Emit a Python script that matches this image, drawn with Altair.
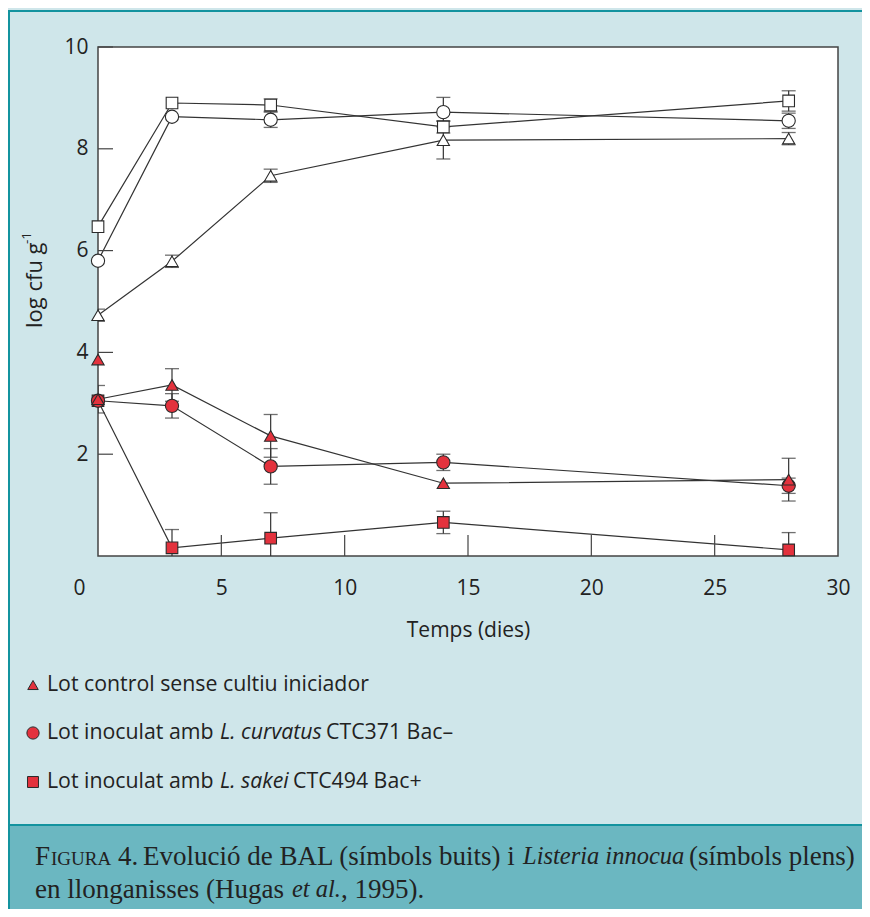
import altair as alt
import pandas as pd

# ---------------- data ----------------
days = [0, 3, 7, 14, 28]

# BAL (open symbols)
bal_sakei = [6.47, 8.90, 8.86, 8.43, 8.94]
bal_sakei_err = [0, 0, 0.12, 0.12, 0.20]
bal_curvatus = [5.80, 8.63, 8.57, 8.72, 8.55]
bal_curvatus_err = [0, 0, 0.15, 0.29, 0.15]
bal_control = [4.73, 5.79, 7.47, 8.17, 8.20]
bal_control_err = [0.12, 0.12, 0.13, 0.37, 0.12]

# Listeria innocua (filled symbols)
lis_sakei = [3.05, 0.16, 0.35, 0.66, 0.12]
lis_sakei_err = [0, 0.36, 0.50, 0.22, 0.34]
lis_curvatus = [3.05, 2.95, 1.76, 1.84, 1.38]
lis_curvatus_err = [0, 0.24, 0.35, 0.16, 0.15]
lis_control = [3.08, 3.36, 2.36, 1.43, 1.50]
lis_control_err = [0.27, 0.32, 0.42, 0, 0.42]

# isolated control point at day 0
extra_day = [0]
extra_value = [3.86]

x_labels = [0, 5, 10, 15, 20, 25, 30]
x_ticks = [5, 10, 15, 20, 25]
y_ticks = [2, 4, 6, 8, 10]

legend_labels = ["Lot control sense cultiu iniciador",
                 "Lot inoculat amb ", "L. curvatus", "CTC371 Bac\u2013",
                 "Lot inoculat amb ", "L. sakei", "CTC494 Bac+"]

# ---------------- build table ----------------
series = [
    ("Listeria sakei", "square", "filled", lis_sakei, lis_sakei_err),
    ("Listeria curvatus", "circle", "filled", lis_curvatus, lis_curvatus_err),
    ("Listeria control", "triangle", "filled", lis_control, lis_control_err),
    ("BAL sakei", "square", "open", bal_sakei, bal_sakei_err),
    ("BAL curvatus", "circle", "open", bal_curvatus, bal_curvatus_err),
    ("BAL control", "triangle", "open", bal_control, bal_control_err),
]
rows = []
for name, shape, fill, vals, errs in series:
    for d, v, e in zip(days, vals, errs):
        rows.append(dict(series=name, shape=shape, fill=fill, day=d, value=v,
                         err=e, lo=v - e, hi=v + e))
df = pd.DataFrame(rows)
extra = pd.DataFrame(dict(series="Listeria control (extra)", shape="triangle",
                          fill="filled", day=extra_day, value=extra_value,
                          err=0.0, lo=extra_value, hi=extra_value))
pts = pd.concat([df, extra], ignore_index=True)
errdf = df[df.err > 0]

W, H = 740, 509
FONT = "Open Sans"
SERIF = "Liberation Serif"
INK = "#222222"
RED = "#e3323d"
AF = 21

xscale = alt.Scale(domain=[0, 30], nice=False, zero=False)
yscale = alt.Scale(domain=[0, 10], nice=False)

x_axis = alt.Axis(values=x_labels, ticks=False, domain=False,
                  grid=False, labelFont=FONT, labelFontSize=AF, labelColor=INK,
                  labelPadding=32, labelBaseline="middle", labelFlush=False,
                  labelOffset=alt.condition("datum.value == 0", alt.value(-19), alt.value(0)),
                  title="Temps (dies)", titleFont=FONT, titleFontSize=AF,
                  titleFontWeight="normal", titleColor=INK, titleY=74,
                  titleBaseline="middle")
y_axis = alt.Axis(values=y_ticks, ticks=False, domain=False, grid=False,
                  labelFont=FONT, labelFontSize=AF, labelColor=INK,
                  labelPadding=10, labelFlush=False, title=None)


def X(field):
    return alt.X(field, scale=xscale, axis=x_axis, title="Temps (dies)")


def Y(field):
    return alt.Y(field, scale=yscale, axis=y_axis, title=None)


lines = alt.Chart(df).mark_line(color="#333333", strokeWidth=1.2).encode(
    x=X("day:Q"), y=Y("value:Q"), detail="series:N")

xt = alt.Chart(pd.DataFrame({"day": x_ticks})).mark_rule(
    color="#444444", strokeWidth=1.2).encode(
    x=X("day:Q"), y=alt.value(H), y2=alt.value(H - 21))
yt = alt.Chart(pd.DataFrame({"value": y_ticks})).mark_rule(
    color="#444444", strokeWidth=1.2).encode(
    y=Y("value:Q"), x=alt.value(0), x2=alt.value(15))

err_rule = alt.Chart(errdf).mark_rule(color="#333333", strokeWidth=1.2, clip=True).encode(
    x=X("day:Q"), y=Y("lo:Q"), y2="hi:Q")
cap_lo = alt.Chart(errdf).mark_tick(color="#333333", orient="horizontal", size=14,
                                     thickness=1.3, clip=True).encode(
    x=X("day:Q"), y=Y("lo:Q"))
cap_hi = alt.Chart(errdf).mark_tick(color="#333333", orient="horizontal", size=14,
                                     thickness=1.3, clip=True).encode(
    x=X("day:Q"), y=Y("hi:Q"))


def point_layer(shape_name, vshape, size):
    return alt.Chart(pts).transform_filter(
        alt.datum.shape == shape_name
    ).mark_point(filled=True, shape=vshape, stroke="#2a2a2a", strokeWidth=1.1,
                 opacity=1, size=size).encode(
        x=X("day:Q"), y=Y("value:Q"),
        fill=alt.Fill("fill:N", scale=alt.Scale(domain=["open", "filled"],
                                                range=["white", RED]),
                      legend=None),
    )


pt_sq = point_layer("square", "square", 135)
pt_ci = point_layer("circle", "circle", 175)
pt_tr = point_layer("triangle", "triangle-up", 150)

one = alt.Data(values=[{"a": 1}])


def txt(text, x, y, size, font=FONT, style="normal", color=INK, align="left", angle=0):
    kw = dict(text=text, font=font, fontSize=size, fontStyle=style, color=color,
              align=align, baseline="middle")
    if angle:
        kw["angle"] = angle
    return alt.Chart(one).mark_text(**kw).encode(x=alt.value(x), y=alt.value(y))


def box(x, x2, y, y2, color):
    return alt.Chart(one).mark_rect(color=color).encode(
        x=alt.value(x), x2=alt.value(x2), y=alt.value(y), y2=alt.value(y2))


def sym(shape, x, y, size):
    return alt.Chart(one).mark_point(shape=shape, filled=True, color=RED, stroke="#2a2a2a",
                                     strokeWidth=1, size=size, opacity=1).encode(
        x=alt.value(x), y=alt.value(y))


TEAL = "#13939f"
deco = [
    box(-90, 764, 777, 862, "#6bb7c1"),
    box(-90, 764, 777, 779, TEAL),
    box(-90, 764, -37, -35, TEAL),
    box(-90, -88, -37, 862, TEAL),
]

LF = 21.3
CF = 27
CI = 24.5
texts = [
    txt("log cfu g", -63, 281, 22, angle=270),
    txt("-1", -71, 197, 13.5, angle=270),
    sym("triangle-up", -65, 638, 110), txt(legend_labels[0], -51, 638, LF),
    sym("circle", -65, 686, 150), txt(legend_labels[1], -51, 686, LF),
    txt(legend_labels[2], 122, 686, LF, style="italic"),
    txt(legend_labels[3], 228, 686, LF),
    sym("square", -65, 735, 120), txt(legend_labels[4], -51, 735, LF),
    txt(legend_labels[5], 122, 735, LF, style="italic"),
    txt(legend_labels[6], 195, 735, LF),
    # caption
    txt("F", -63, 810, CF, font=SERIF),
    txt("IGURA", -47, 812, 19, font=SERIF),
    txt("4.", 20, 810, CF, font=SERIF),
    txt("Evolució de BAL (símbols buits) i", 45, 810, CF, font=SERIF),
    txt("Listeria innocua", 425, 810, CI, font=SERIF, style="italic"),
    txt("(símbols plens)", 591, 810, CF, font=SERIF),
    txt("en llonganisses (Hugas", -63, 843, CF, font=SERIF),
    txt("et al.", 194, 843, CI, font=SERIF, style="italic"),
    txt(", 1995).", 243, 843, CF, font=SERIF),
]

chart = alt.layer(
    lines, *deco, xt, yt, err_rule, cap_lo, cap_hi, pt_sq, pt_ci, pt_tr, *texts
).properties(
    width=W, height=H,
    padding={"left": 90, "top": 39, "right": 24, "bottom": 353},
    autosize=alt.AutoSizeParams(type="none"),
    background="#cfe6ea",
).configure_view(fill="white", stroke="#444444", strokeWidth=1.5)

chart.save("out.html", embed_options={"renderer": "svg", "actions": False})
